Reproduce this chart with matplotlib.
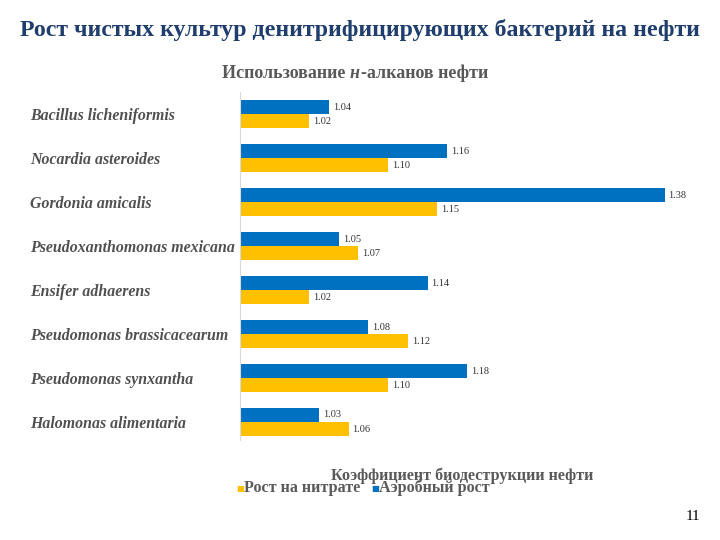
import matplotlib
matplotlib.use("Agg")
import matplotlib.pyplot as plt
import numpy as np

species = ["Bacillus licheniformis", "Nocardia asteroides", "Gordonia amicalis",
           "Pseudoxanthomonas mexicana", "Ensifer adhaerens",
           "Pseudomonas brassicacearum", "Pseudomonas synxantha", "Halomonas alimentaria"]
aerobic = [1.04, 1.16, 1.38, 1.05, 1.14, 1.08, 1.18, 1.03]
nitrate = [1.02, 1.10, 1.15, 1.07, 1.02, 1.12, 1.10, 1.06]
series_names = ["Рост на нитрате", "Аэробный рост"]

BLUE = "#0070C0"
YELLOW = "#FFC000"
GRAY = "#505050"

plt.rcParams['font.family'] = ['Liberation Serif', 'DejaVu Serif']

W, H = 720, 540
fig = plt.figure(figsize=(7.2, 5.4), dpi=100)
PT = 100 / 72

# axes in pixel coords: left 240, right 704, top 92, bottom 440
L, R, T, B = 240, 704, 92, 440
ax = fig.add_axes([L / W, 1 - B / H, (R - L) / W, (B - T) / H])

y = np.arange(len(species))
h = 0.32
ax.barh(y - h / 2, aerobic, height=h, left=0, color=BLUE, label=series_names[1])
ax.barh(y + h / 2, nitrate, height=h, left=0, color=YELLOW, label=series_names[0])
ax.set_xlim(0.95, 1.42)
ax.set_ylim(7.41, -0.51)

for i in range(len(species)):
    ax.text(aerobic[i] + 0.004, y[i] - h / 2, f"{aerobic[i]:.2f}", va="center", ha="left",
            fontsize=7.5, color="#333333")
    ax.text(nitrate[i] + 0.004, y[i] + h / 2, f"{nitrate[i]:.2f}", va="center", ha="left",
            fontsize=7.5, color="#333333")

ax.set_yticks(y)
ax.set_yticklabels(species, fontsize=11.4, fontweight="bold", fontstyle="italic", color=GRAY)
for lbl in ax.get_yticklabels():
    lbl.set_horizontalalignment("left")
ax.tick_params(axis="y", length=0, pad=(L - 30) / PT)
ax.set_xticks([])
for s in ["top", "right", "bottom"]:
    ax.spines[s].set_visible(False)
ax.spines["left"].set_color("#D9D9D9")
ax.spines["left"].set_linewidth(0.8)

# Title
fig.text(360 / W, 1 - 30 / H, "Рост чистых культур денитрифицирующих бактерий на нефти",
         ha="center", va="center", fontsize=17.2, fontweight="bold", color="#1F3E6E")

# Subtitle with italic н, built from pieces
renderer = fig.canvas.get_renderer()
parts = [("Использование ", "normal"), ("н", "italic"), ("-алканов нефти", "normal")]
x0 = 222
for s, st in parts:
    t = fig.text(x0 / W, 1 - 73 / H, s, ha="left", va="center", fontsize=13,
                 fontweight="bold", fontstyle=st, color="#595959")
    bb = t.get_window_extent(renderer)
    x0 = bb.x1 + (1 if st == "italic" else 0)

# X axis label
fig.text(462 / W, 1 - 476 / H, "Коэффициент биодеструкции нефти",
         ha="center", va="center", fontsize=11.6, fontweight="bold", color="#595959")

# legend
fig.text(236 / W, 1 - 488 / H, "■", color=YELLOW, fontsize=6, ha="left", va="center",
         family="DejaVu Sans")
fig.text(244 / W, 1 - 488 / H, series_names[0], ha="left", va="center", fontsize=11.6,
         fontweight="bold", color="#595959")
fig.text(371 / W, 1 - 488 / H, "■", color=BLUE, fontsize=6, ha="left", va="center",
         family="DejaVu Sans")
fig.text(379 / W, 1 - 488 / H, series_names[1], ha="left", va="center", fontsize=11.6,
         fontweight="bold", color="#595959")

fig.text(700 / W, 1 - 517 / H, "11", ha="right", va="center", fontsize=11, color="black")

fig.savefig("out.png", dpi=100)
